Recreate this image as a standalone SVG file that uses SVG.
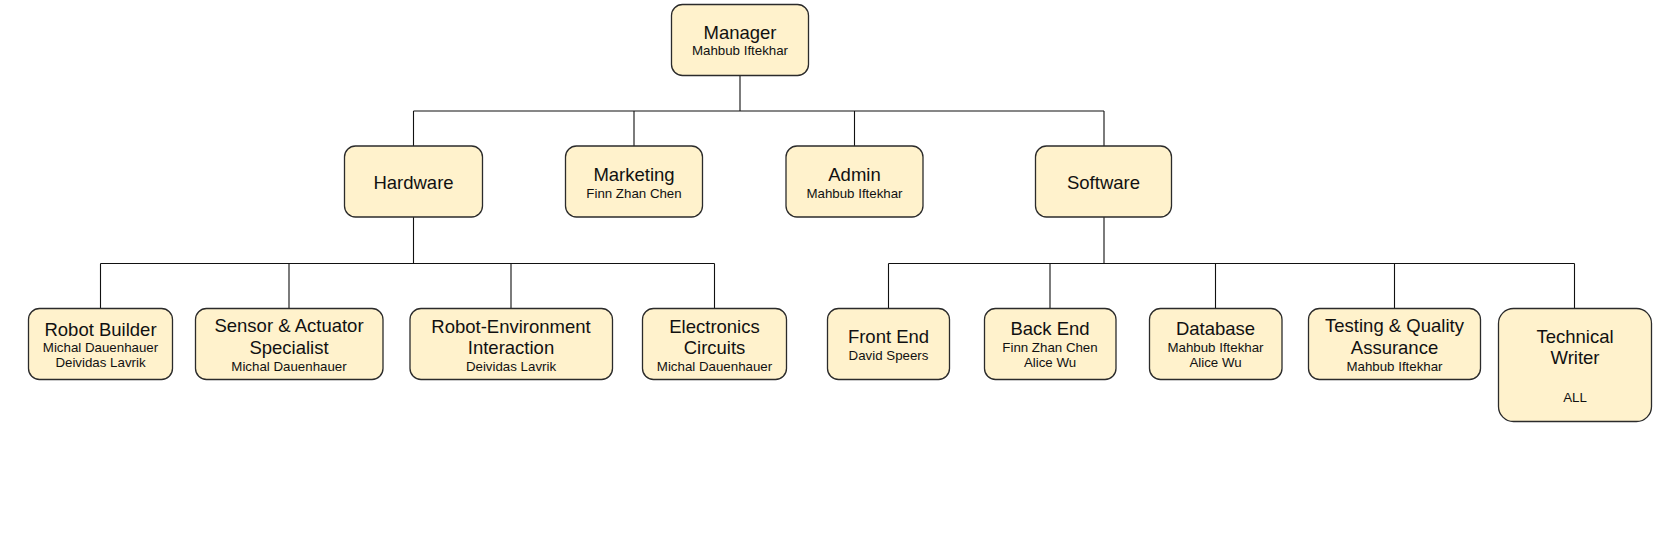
<svg xmlns="http://www.w3.org/2000/svg" width="1661" height="534" viewBox="0 0 1661 534">
<style>
.box{fill:#fff2cc;stroke:#2b2b2b;stroke-width:1.3}
.t{font-family:"Liberation Sans",Arial,sans-serif;font-size:18.5px;fill:#111;text-anchor:middle}
.s{font-family:"Liberation Sans",Arial,sans-serif;font-size:13.3px;fill:#111;text-anchor:middle}
.c{fill:none;stroke:#111;stroke-width:1.1}
</style>
<rect width="1661" height="534" fill="#fff"/>
<g id="connectors">
<path class="c" d="M740 75.5V111M413.5 111H1104M413.5 111V146M634 111V146M854.5 111V146M1104 111V146"/>
<path class="c" d="M413.5 217V263.5M100.5 263.5H714.5M100.5 263.5V308.5M289 263.5V308.5M511 263.5V308.5M714.5 263.5V308.5"/>
<path class="c" d="M1104 217V263.5M888.5 263.5H1574.5M888.5 263.5V308.5M1050 263.5V308.5M1215.5 263.5V308.5M1394.5 263.5V308.5M1574.5 263.5V308.5"/>
</g>
<g id="manager">
<rect class="box" x="671.5" y="4.5" width="137" height="71" rx="11"/>
<text class="t" x="740" y="39">Manager</text>
<text class="s" x="740" y="55">Mahbub Iftekhar</text>
</g>
<g id="hardware">
<rect class="box" x="344.5" y="146" width="138" height="71" rx="11"/>
<text class="t" x="413.5" y="188.5">Hardware</text>
</g>
<g id="marketing">
<rect class="box" x="565.5" y="146" width="137" height="71" rx="11"/>
<text class="t" x="634" y="181">Marketing</text>
<text class="s" x="634" y="197.5">Finn Zhan Chen</text>
</g>
<g id="admin">
<rect class="box" x="786" y="146" width="137" height="71" rx="11"/>
<text class="t" x="854.5" y="181">Admin</text>
<text class="s" x="854.5" y="197.5">Mahbub Iftekhar</text>
</g>
<g id="software">
<rect class="box" x="1035.5" y="146" width="136" height="71" rx="11"/>
<text class="t" x="1103.5" y="188.5">Software</text>
</g>
<g id="robot-builder">
<rect class="box" x="28.5" y="308.5" width="144" height="71" rx="11"/>
<text class="t" x="100.5" y="335.5">Robot Builder</text>
<text class="s" x="100.5" y="352">Michal Dauenhauer</text>
<text class="s" x="100.5" y="367">Deividas Lavrik</text>
</g>
<g id="sensor">
<rect class="box" x="195.5" y="308.5" width="187.5" height="71" rx="11"/>
<text class="t" x="289" y="331.5">Sensor &amp; Actuator</text>
<text class="t" x="289" y="353.5">Specialist</text>
<text class="s" x="289" y="370.5">Michal Dauenhauer</text>
</g>
<g id="robot-env">
<rect class="box" x="410" y="308.5" width="202.5" height="71" rx="11"/>
<text class="t" x="511" y="332.5">Robot-Environment</text>
<text class="t" x="511" y="354">Interaction</text>
<text class="s" x="511" y="370.5">Deividas Lavrik</text>
</g>
<g id="electronics">
<rect class="box" x="642.5" y="308.5" width="144" height="71" rx="11"/>
<text class="t" x="714.5" y="332.5">Electronics</text>
<text class="t" x="714.5" y="354">Circuits</text>
<text class="s" x="714.5" y="370.5">Michal Dauenhauer</text>
</g>
<g id="front-end">
<rect class="box" x="827.5" y="308.5" width="122" height="71" rx="11"/>
<text class="t" x="888.5" y="343">Front End</text>
<text class="s" x="888.5" y="360">David Speers</text>
</g>
<g id="back-end">
<rect class="box" x="984.5" y="308.5" width="131.5" height="71" rx="11"/>
<text class="t" x="1050" y="335">Back End</text>
<text class="s" x="1050" y="351.5">Finn Zhan Chen</text>
<text class="s" x="1050" y="366.5">Alice Wu</text>
</g>
<g id="database">
<rect class="box" x="1149.5" y="308.5" width="132.5" height="71" rx="11"/>
<text class="t" x="1215.5" y="335">Database</text>
<text class="s" x="1215.5" y="351.5">Mahbub Iftekhar</text>
<text class="s" x="1215.5" y="366.5">Alice Wu</text>
</g>
<g id="testing">
<rect class="box" x="1308.5" y="308.5" width="172" height="71" rx="11"/>
<text class="t" x="1394.5" y="332">Testing &amp; Quality</text>
<text class="t" x="1394.5" y="354">Assurance</text>
<text class="s" x="1394.5" y="370.5">Mahbub Iftekhar</text>
</g>
<g id="technical-writer">
<rect class="box" x="1498.5" y="308.5" width="153" height="113" rx="15"/>
<text class="t" x="1575" y="342.5">Technical</text>
<text class="t" x="1575" y="364">Writer</text>
<text class="s" x="1575" y="402">ALL</text>
</g>
</svg>
